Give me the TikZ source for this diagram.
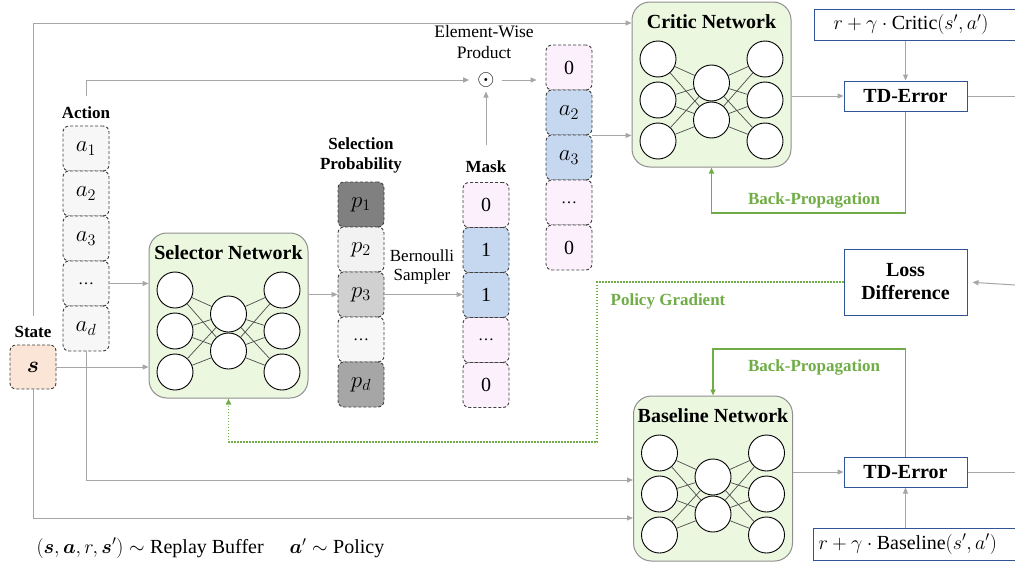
\RequirePackage{fix-cm}
\documentclass[tikz,border=0pt]{standalone}
\usepackage{graphicx}
\usepackage{bm}
\usepackage{fontspec}
\setmainfont{Liberation Serif}
\usetikzlibrary{arrows.meta}
\definecolor{cgray}{HTML}{A6A6A6}
\definecolor{dgray}{HTML}{404040}
\definecolor{netfill}{HTML}{EBF7DF}
\definecolor{netborder}{HTML}{8F8F8F}
\definecolor{ggreen}{HTML}{70AD47}
\definecolor{bblue}{HTML}{2F5597}
\definecolor{maskpink}{HTML}{FCF0FC}
\definecolor{maskblue}{HTML}{C5D8EF}
\definecolor{actfill}{HTML}{F7F7F7}
\definecolor{statefill}{HTML}{FBE5D6}
\definecolor{pone}{HTML}{808080}
\definecolor{ptwo}{HTML}{F2F2F2}
\definecolor{pthree}{HTML}{D0D0D0}
\definecolor{pdark}{HTML}{A6A6A6}
\newcommand\cmath[1]{\scalebox{1.15}{$#1$}}
\newcommand\mknet[4]{%
  \node[net] (#1) at (#2,#3+82.5) {};
  \node[nettitle] (#1title) at (#2,#3+20) {#4};
  \node[neuron] (#1l1) at (#2-53.5,#3+57) {};
  \node[neuron] (#1l2) at (#2-53.5,#3+98) {};
  \node[neuron] (#1l3) at (#2-53.5,#3+139) {};
  \node[neuron] (#1m1) at (#2,#3+81) {};
  \node[neuron] (#1m2) at (#2,#3+118) {};
  \node[neuron] (#1r1) at (#2+53.5,#3+57) {};
  \node[neuron] (#1r2) at (#2+53.5,#3+98) {};
  \node[neuron] (#1r3) at (#2+53.5,#3+139) {};
  \foreach \i in {1,2,3} {\foreach \j in {1,2} {%
    \draw[nlink] (#1l\i) -- (#1m\j);
    \draw[nlink] (#1m\j) -- (#1r\i);}}
}
\begin{document}
\begin{tikzpicture}[x=1pt,y=-1pt,
  conn/.style={draw=cgray, line width=1pt, -{Triangle[length=6pt,width=5pt]}},
  cline/.style={draw=cgray, line width=1pt},
  gconn/.style={draw=ggreen, line width=1.6pt, -{Triangle[length=6pt,width=5pt]}},
  gdot/.style={draw=ggreen, line width=1.5pt, dash pattern=on 1.5pt off 1.5pt, -{Triangle[length=6pt,width=5pt]}},
  cell/.style={draw=dgray, dash pattern=on 3pt off 2pt, rounded corners=6pt, minimum width=46pt, minimum height=45pt, line width=0.9pt, inner sep=0pt, font=\fontsize{20}{24}\selectfont},
  net/.style={draw=netborder, fill=netfill, rounded corners=18pt, line width=1pt, minimum width=159pt, minimum height=165pt},
  nettitle/.style={font=\fontsize{20}{24}\selectfont\bfseries},
  neuron/.style={circle, draw=black, fill=white, minimum size=36pt, inner sep=0pt, line width=0.9pt},
  nlink/.style={draw=black!70, line width=0.7pt},
  blbox/.style={draw=bblue, fill=white, line width=1pt},
  lbl/.style={font=\fontsize{17}{20}\selectfont\bfseries},
  plain/.style={font=\fontsize{17.5}{21}\selectfont},
  glbl/.style={text=ggreen, font=\fontsize{17}{20}\selectfont\bfseries}
]
\useasboundingbox (0,0) rectangle (1015,562);
\clip (0,0) rectangle (1015,562);
\fill[white] (0,0) rectangle (1015,562);

% networks
\mknet{selector}{228.5}{233}{Selector Network}
\mknet{critic}{711.5}{2}{Critic Network}
\mknet{baseline}{713}{396}{Baseline Network}

% action column
\node[lbl] (actlbl) at (86,113) {Action};
\node[cell, fill=actfill] (a1) at (86,148.5) {\cmath{a_1}};
\node[cell, fill=actfill] (a2) at (86,193.5) {\cmath{a_2}};
\node[cell, fill=actfill] (a3) at (86,238.5) {\cmath{a_3}};
\node[cell, fill=actfill] (adots) at (86,283.5) {\fontsize{16}{20}\selectfont …};
\node[cell, fill=actfill] (ad) at (86,328.5) {\cmath{a_d}};

% state
\node[lbl] (stlbl) at (33,332) {State};
\node[cell, fill=statefill, minimum height=44pt] (state) at (33,367) {\cmath{\bm{s}}};

% selection probability
\node[lbl, align=center] (problbl) at (361,155) {Selection\\Probability};
\node[cell, fill=pone] (p1) at (361,204.5) {\cmath{p_1}};
\node[cell, fill=ptwo] (p2) at (361,249.5) {\cmath{p_2}};
\node[cell, fill=pthree] (p3) at (361,294.5) {\cmath{p_3}};
\node[cell, fill=actfill] (pdots) at (361,339.5) {\fontsize{16}{20}\selectfont …};
\node[cell, fill=pdark] (pd) at (361,384.5) {\cmath{p_d}};

% mask
\node[lbl] (masklbl) at (486,167) {Mask};
\node[cell, fill=maskpink] (m1) at (486,205) {0};
\node[cell, fill=maskblue] (m2) at (486,250) {1};
\node[cell, fill=maskblue] (m3) at (486,295) {1};
\node[cell, fill=maskpink] (mdots) at (486,340) {\fontsize{16}{20}\selectfont …};
\node[cell, fill=maskpink] (m5) at (486,385) {0};

% product
\node[plain, align=center, inner sep=0pt] (ewlbl) at (484,42) {Element-Wise\\Product};
\node[inner sep=0pt, font=\fontsize{20}{24}\selectfont] (odot) at (486,80) {\scalebox{1.1}{$\odot$}};
\node[font=\fontsize{17}{19}\selectfont, align=center] (bern) at (422,266.5) {Bernoulli\\Sampler};

% result column
\node[cell, fill=maskpink] (r1) at (569,67.5) {0};
\node[cell, fill=maskblue] (r2) at (569,112.5) {\cmath{a_2}};
\node[cell, fill=maskblue] (r3) at (569,157.5) {\cmath{a_3}};
\node[cell, fill=maskpink] (rdots) at (569,202.5) {\fontsize{16}{20}\selectfont …};
\node[cell, fill=maskpink] (r5) at (569,247.5) {0};

% right-side boxes
\node[blbox, anchor=west, text width=190pt, inner xsep=19pt, minimum height=31pt, align=left, font=\fontsize{20}{24}\selectfont] (critf) at (814,24.5) {$r+\gamma\cdot{}$Critic$(s',a')$};
\node[blbox, minimum width=123pt, minimum height=30pt, font=\fontsize{20}{24}\selectfont\bfseries] (tdtop) at (905.5,96) {TD-Error};
\node[blbox, minimum width=123pt, minimum height=66pt, align=center, font=\fontsize{20}{23}\selectfont\bfseries] (loss) at (905.5,282) {Loss\\Difference};
\node[blbox, minimum width=123pt, minimum height=30pt, font=\fontsize{20}{24}\selectfont\bfseries] (tdbot) at (905.5,472) {TD-Error};
\node[blbox, anchor=west, text width=200pt, inner xsep=5pt, minimum height=32pt, align=left, font=\fontsize{20}{24}\selectfont] (basef) at (813,544) {$r+\gamma\cdot{}$Baseline$(s',a')$};

\coordinate (e1) at (1015,96);
\coordinate (e2) at (1015,285);
\coordinate (e3) at (1015,472);
\coordinate (toprow) at (0,23);
\coordinate (arow) at (0,480);
\coordinate (srow) at (0,518);
\coordinate (bp1) at (905.5,213);
\coordinate (bp2) at (905.5,349);
\coordinate (pg) at (597,442);

% connectors
\draw[conn, shorten <=7pt] (stlbl.north) |- (critic.west |- toprow);
\draw[conn, shorten <=7pt, shorten >=8pt] (actlbl.north) |- (odot.west);
\draw[conn] (adots.east) -- (selector.west |- adots.east);
\draw[conn] (state.east) -- (selector.west |- state.east);
\draw[conn] (state.south) |- (baseline.west |- srow);
\draw[conn] (ad.south) |- (baseline.west |- arow);
\draw[conn] (selector.east |- p3.west) -- (p3.west);
\draw[conn] (p3.east) -- (m3.west |- p3.east);
\draw[conn, shorten <=12pt, shorten >=4pt] (masklbl.north) -- (odot.south);
\draw[conn, shorten <=7pt, shorten >=9pt] (odot.east) -- (r1.west |- odot.east);
\draw[conn] (r2.south east) -- (critic.west |- r2.south east);
\draw[conn] (critic.east |- tdtop.west) -- (tdtop.west);
\draw[conn] (critf.south -| tdtop.north) -- (tdtop.north);
\draw[cline] (tdtop.east) -- (e1);
\draw[gconn] (tdtop.south) -- (bp1) -| (critic.south);
\node[glbl] (bplbl1) at (814,200) {Back-Propagation};
\draw[conn, shorten >=5pt] (e2) -- (loss.east);
\draw[gdot] (loss.west) -| (pg) -| (selector.south);
\node[glbl] (pglbl) at (668,301) {Policy Gradient};
\draw[gconn] (tdbot.north) -- (bp2) -| (baseline.north);
\node[glbl] (bplbl2) at (814,367) {Back-Propagation};
\draw[conn] (baseline.east |- tdbot.west) -- (tdbot.west);
\draw[conn] (basef.north -| tdbot.south) -- (tdbot.south);
\draw[cline] (tdbot.east) -- (e3);

% bottom text
\node[anchor=west, font=\fontsize{20}{24}\selectfont] (rb) at (33,548) {$(\bm{s},\bm{a},r,\bm{s}')\sim{}$Replay Buffer};
\node[anchor=west, font=\fontsize{20}{24}\selectfont] (pol) at (286,548) {$\bm{a}'\sim{}$Policy};
\end{tikzpicture}
\end{document}
